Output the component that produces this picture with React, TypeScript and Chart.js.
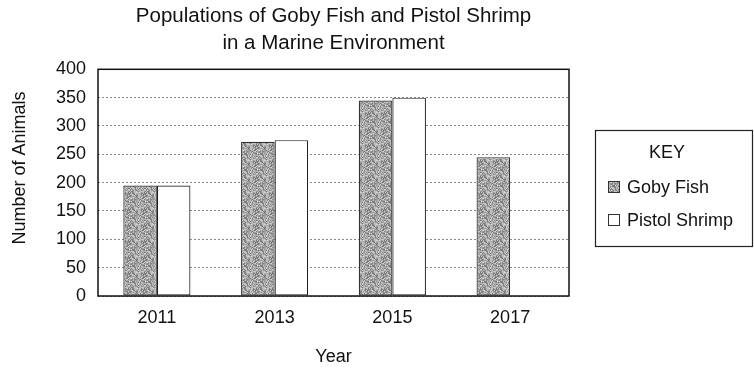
import React, { useEffect, useRef } from 'react';
import { Chart, registerables } from 'chart.js';

Chart.register(...registerables);

const years = ['2011', '2013', '2015', '2017'];
const gobyFish = [195, 272, 345, 245];
const pistolShrimp: (number | null)[] = [195, 275, 350, null];
const seriesNames = ['Goby Fish', 'Pistol Shrimp'];
const titleLines = ['Populations of Goby Fish and Pistol Shrimp', 'in a Marine Environment'];
const yAxisTitle = 'Number of Animals';
const xAxisTitle = 'Year';
const legendTitle = 'KEY';
const yMin = 0;
const yMax = 400;
const yStep = 50;

const FONT = '"Liberation Sans", Arial, sans-serif';
const INK = '#111';

// Speckled grey texture (a fixed, hash-based tile; purely a fill style)
function makeStipple(): CanvasPattern | string {
  const size = 16;
  const c = document.createElement('canvas');
  c.width = size;
  c.height = size;
  const ctx = c.getContext('2d');
  if (!ctx) return '#a0a0a0';
  for (let y = 0; y < size; y++) {
    for (let x = 0; x < size; x++) {
      let h = (x * 374761393 + y * 668265263) | 0;
      h = Math.imul(h ^ (h >>> 13), 1274126177);
      h = (h ^ (h >>> 16)) >>> 0;
      const t = (h % 1000) / 1000;
      const v = Math.round(t < 0.3 ? 115 + t * 80 : 150 + (t - 0.3) * 90);
      ctx.fillStyle = `rgb(${v},${v},${v})`;
      ctx.fillRect(x, y, 1, 1);
    }
  }
  const p = ctx.createPattern(c, 'repeat');
  return p || '#a0a0a0';
}

export default function App() {
  const ref = useRef<HTMLCanvasElement | null>(null);

  useEffect(() => {
    const canvas = ref.current;
    if (!canvas) return;
    const stipple = makeStipple();

    const decorations = {
      id: 'decorations',
      afterDatasetsDraw(chart: any) {
        const { ctx, chartArea } = chart;
        ctx.save();
        ctx.strokeStyle = INK;
        ctx.lineWidth = 1.5;
        ctx.strokeRect(chartArea.left, chartArea.top, chartArea.right - chartArea.left, chartArea.bottom - chartArea.top);
        ctx.restore();
      },
      afterDraw(chart: any) {
        const { ctx } = chart;
        ctx.save();
        ctx.fillStyle = INK;
        ctx.font = `18px ${FONT}`;
        ctx.textAlign = 'center';
        ctx.textBaseline = 'middle';
        ctx.translate(20, 168);
        ctx.rotate(-Math.PI / 2);
        ctx.fillText(yAxisTitle, 0, 0);
        ctx.restore();

        ctx.save();
        ctx.strokeStyle = '#222';
        ctx.lineWidth = 1.2;
        ctx.strokeRect(595.5, 130.5, 157, 116);
        ctx.fillStyle = INK;
        ctx.font = `18px ${FONT}`;
        ctx.textAlign = 'center';
        ctx.textBaseline = 'middle';
        ctx.fillText(legendTitle, 667, 153);
        const ds = chart.data.datasets;
        const rowsY = [187, 220];
        ds.forEach((d: any, i: number) => {
          const y = rowsY[i];
          ctx.fillStyle = d.backgroundColor;
          ctx.fillRect(608, y - 6, 12, 12);
          ctx.strokeStyle = '#333';
          ctx.lineWidth = 1;
          ctx.strokeRect(608.5, y - 5.5, 11, 11);
          ctx.fillStyle = INK;
          ctx.textAlign = 'left';
          ctx.fillText(d.label, 627, y + 1);
        });
        ctx.restore();
      },
    };

    const chart = new Chart(canvas, {
      type: 'bar',
      data: {
        labels: years,
        datasets: [
          {
            label: seriesNames[0],
            data: gobyFish,
            backgroundColor: stipple as any,
            borderColor: '#333',
            borderWidth: 1.2,
            borderSkipped: false,
            categoryPercentage: 0.57,
            barPercentage: 1.0,
          },
          {
            label: seriesNames[1],
            data: pistolShrimp,
            backgroundColor: '#ffffff',
            borderColor: '#222',
            borderWidth: 1.2,
            borderSkipped: false,
            categoryPercentage: 0.57,
            barPercentage: 1.0,
          },
        ],
      },
      options: {
        responsive: false,
        animation: false,
        layout: { padding: { left: 0, right: 185, top: 0, bottom: 0 } },
        plugins: {
          legend: { display: false },
          tooltip: { enabled: false },
          title: {
            display: true,
            fullSize: false,
            text: titleLines,
            color: INK,
            font: { family: FONT, size: 20.5, weight: 'normal', lineHeight: 1.3 },
            padding: { top: 3, bottom: 13 },
          },
        },
        scales: {
          x: {
            grid: { display: false, drawTicks: false },
            border: { display: false },
            ticks: { color: INK, font: { family: FONT, size: 18 }, padding: 11 },
            title: {
              display: true,
              text: xAxisTitle,
              color: INK,
              font: { family: FONT, size: 18 },
              padding: { top: 14, bottom: 0 },
            },
            afterFit: (scale: any) => {
              scale.height = 72;
            },
          },
          y: {
            min: yMin,
            max: yMax,
            ticks: { stepSize: yStep, color: INK, font: { family: FONT, size: 18 }, padding: 12 },
            grid: { color: '#8a8a8a', lineWidth: 1, drawTicks: false },
            border: { display: false, dash: [2, 2] },
            afterFit: (scale: any) => {
              scale.width = 98;
            },
          },
        },
      },
      plugins: [decorations],
    });

    return () => chart.destroy();
  }, []);

  return (
    <div style={{ position: 'fixed', left: 0, top: 0, width: 754, height: 368, background: '#fff' }}>
      <canvas ref={ref} width={754} height={368} style={{ display: 'block' }} />
    </div>
  );
}
